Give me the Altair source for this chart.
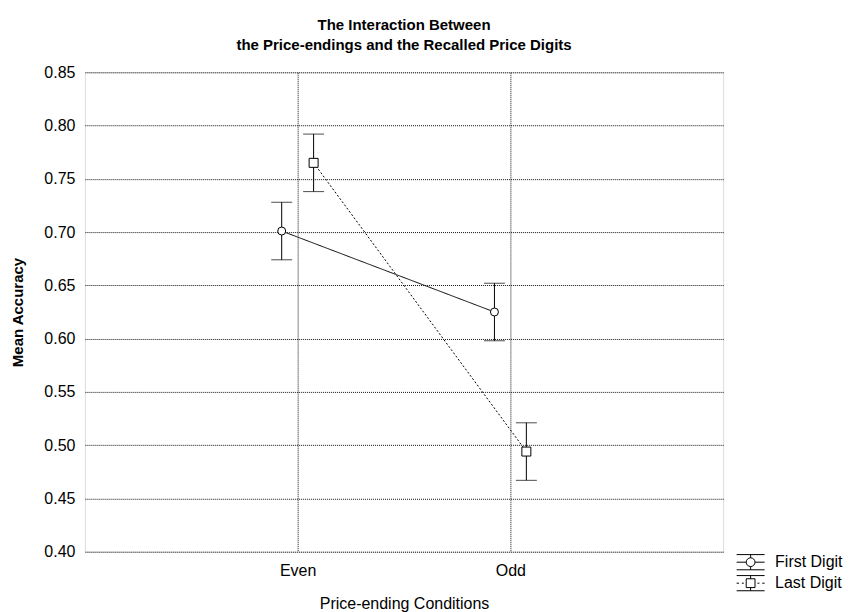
import json
import altair as alt
import pandas as pd

conditions = ["Even", "Odd"]
series = ["First Digit", "Last Digit"]
first_mean = [0.701, 0.625]
first_low = [0.674, 0.598]
first_high = [0.728, 0.652]
last_mean = [0.765, 0.494]
last_low = [0.738, 0.467]
last_high = [0.792, 0.521]
y_ticks = [0.40, 0.45, 0.50, 0.55, 0.60, 0.65, 0.70, 0.75, 0.80, 0.85]

rows = []
for s, means, lows, highs in zip(series, [first_mean, last_mean],
                                 [first_low, last_low], [first_high, last_high]):
    for i, c in enumerate(conditions):
        rows.append(dict(series=s, condition=c, idx=i + 1,
                         mean=means[i], low=lows[i], high=highs[i]))
df = pd.DataFrame(rows)

FONT = "Liberation Sans"

x_enc = alt.X(
    "xpos:Q",
    scale=alt.Scale(domain=[0, len(conditions) + 1], nice=False, zero=False),
    axis=alt.Axis(
        values=list(range(1, len(conditions) + 1)),
        labelExpr=f"{json.dumps(conditions)}[datum.value - 1]",
        title="Price-ending Conditions",
        grid=True, ticks=False, domain=False,
        labelFont=FONT, labelFontSize=16, labelColor="black", labelPadding=11,
        titleFont=FONT, titleFontSize=16, titleFontWeight="normal", titleColor="black",
        titlePadding=17,
        gridColor="#111", gridDash=[1, 1], gridWidth=1,
    ),
)

y_scale = alt.Scale(domain=[0.40, 0.85], nice=False, zero=False)
y_axis = alt.Axis(
    values=y_ticks, format=".2f", title="Mean Accuracy",
    grid=True, ticks=False, domain=False,
    labelFont=FONT, labelFontSize=16, labelColor="black", labelPadding=10,
    titleFont=FONT, titleFontSize=15, titleFontWeight="bold", titleColor="black",
    titlePadding=18,
    gridColor="#111", gridDash=[1, 1], gridWidth=1,
)

base = alt.Chart(df).transform_calculate(
    xpos="datum.idx + (datum.series === 'First Digit' ? -0.075 : 0.075)"
)

rules = base.mark_rule(color="black", strokeWidth=1).encode(
    x=x_enc, y=alt.Y("low:Q", scale=y_scale, axis=y_axis), y2="high:Q"
)
cap_lo = base.mark_tick(orient="horizontal", size=21, thickness=1, color="black").encode(
    x=x_enc, y=alt.Y("low:Q", scale=y_scale, axis=y_axis)
)
cap_hi = base.mark_tick(orient="horizontal", size=21, thickness=1, color="black").encode(
    x=x_enc, y=alt.Y("high:Q", scale=y_scale, axis=y_axis)
)
lines = base.mark_line(color="black", strokeWidth=1).encode(
    x=x_enc, y=alt.Y("mean:Q", scale=y_scale, axis=y_axis),
    strokeDash=alt.StrokeDash("series:N", scale=alt.Scale(domain=series, range=[[1, 0], [2, 2]]), legend=None),
)
points = base.mark_point(filled=True, fill="white", stroke="black", strokeWidth=1, opacity=1).encode(
    x=x_enc, y=alt.Y("mean:Q", scale=y_scale, axis=y_axis),
    shape=alt.Shape("series:N", scale=alt.Scale(domain=series, range=["circle", "square"]), legend=None),
    size=alt.Size("series:N", scale=alt.Scale(domain=series, range=[64, 81]), legend=None),
)

# legend glyphs: error bar + marker + connecting line, drawn as SVG paths
path_first = ("M-1.75,-0.95H1.75M-1.75,0.95H1.75M-1.75,0H-0.55M0.55,0H1.75"
              "M0,-0.95V-0.55M0,0.55V0.95"
              "M-0.55,0A0.55,0.55,0,1,0,0.55,0A0.55,0.55,0,1,0,-0.55,0Z")
path_last = ("M-1.75,-0.95H1.75M-1.75,0.95H1.75"
             "M-1.75,0H-1.45M-1.1,0H-0.85M0.85,0H1.1M1.45,0H1.75"
             "M0,-0.95V-0.55M0,0.55V0.95M-0.55,-0.55H0.55V0.55H-0.55Z")

legend_layer = base.mark_point(opacity=0).encode(
    x=x_enc, y=alt.Y("mean:Q", scale=y_scale, axis=y_axis),
    shape=alt.Shape(
        "series:N",
        scale=alt.Scale(domain=series, range=[path_first, path_last]),
        legend=alt.Legend(
            orient="none", legendX=658, legendY=482, title=None,
            labelFont=FONT, labelFontSize=16, labelColor="black", labelOffset=16,
            symbolSize=256, symbolStrokeColor="black", symbolFillColor="white",
            symbolStrokeWidth=1, symbolOpacity=1, rowPadding=0, padding=0,
        ),
    ),
)

chart = alt.layer(rules, cap_lo, cap_hi, lines, points, legend_layer).resolve_scale(
    shape="independent", strokeDash="independent", size="independent"
).properties(
    width=639, height=480,
    autosize=alt.AutoSizeParams(type="none"),
    padding={"left": 77, "top": 64, "right": 120, "bottom": 60},
    title=alt.Title(
        ["The Interaction Between", "the Price-endings and the Recalled Price Digits"],
        font=FONT, fontSize=15, fontWeight="bold", color="black",
        anchor="middle", frame="group", offset=11, lineHeight=20,
    ),
).configure_view(stroke="black", strokeWidth=1).configure(background="white")

chart.save("out.html", embed_options={"renderer": "svg", "actions": False})
